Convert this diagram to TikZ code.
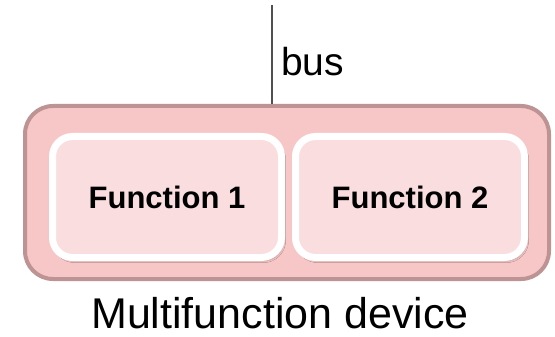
\documentclass[tikz,border=0pt]{standalone}
\usepackage{fontspec}
\setmainfont{Liberation Sans}
\usetikzlibrary{shadows.blur}
\definecolor{outerfill}{HTML}{F7C6C6}
\definecolor{outerline}{HTML}{BE9393}
\definecolor{innerfill}{HTML}{FADDDE}
\definecolor{busline}{HTML}{505050}
\begin{document}
\begin{tikzpicture}[x=1pt,y=-1pt,
  devicebox/.style={draw=outerline, line width=4pt, fill=outerfill,
    rounded corners=28pt, minimum width=524pt, minimum height=173pt, inner sep=0pt},
  funcbox/.style={draw=white, line width=7pt, fill=innerfill,
    rounded corners=20pt, minimum width=229pt, minimum height=121pt, inner sep=0pt,
    font=\fontsize{31}{37}\selectfont\bfseries,
    blur shadow={shadow xshift=2pt, shadow yshift=-3pt, shadow blur steps=6, shadow opacity=30}},
  buswire/.style={draw=busline, line width=1.5pt},
  bigtext/.style={inner sep=0pt}]
  % page area
  \fill[white] (0,0) rectangle (555,337);
  \useasboundingbox (0,0) rectangle (555,337);

  % multifunction device with its two functions
  \node[devicebox] (device) at (287,192.5) {};
  \node[funcbox] (f1) at (167,197) {Function 1};
  \node[funcbox] (f2) at (410,197) {Function 2};

  % bus connection from above
  \coordinate (busTop) at (272,5);
  \draw[buswire] (busTop) -- (busTop |- device.north);
  \node[bigtext, anchor=base west, font=\fontsize{39}{46}\selectfont] (buslabel) at (281,76) {bus};

  % caption
  \node[bigtext, anchor=base, font=\fontsize{43}{50}\selectfont] (caption) at (280,328) {Multifunction device};
\end{tikzpicture}
\end{document}
